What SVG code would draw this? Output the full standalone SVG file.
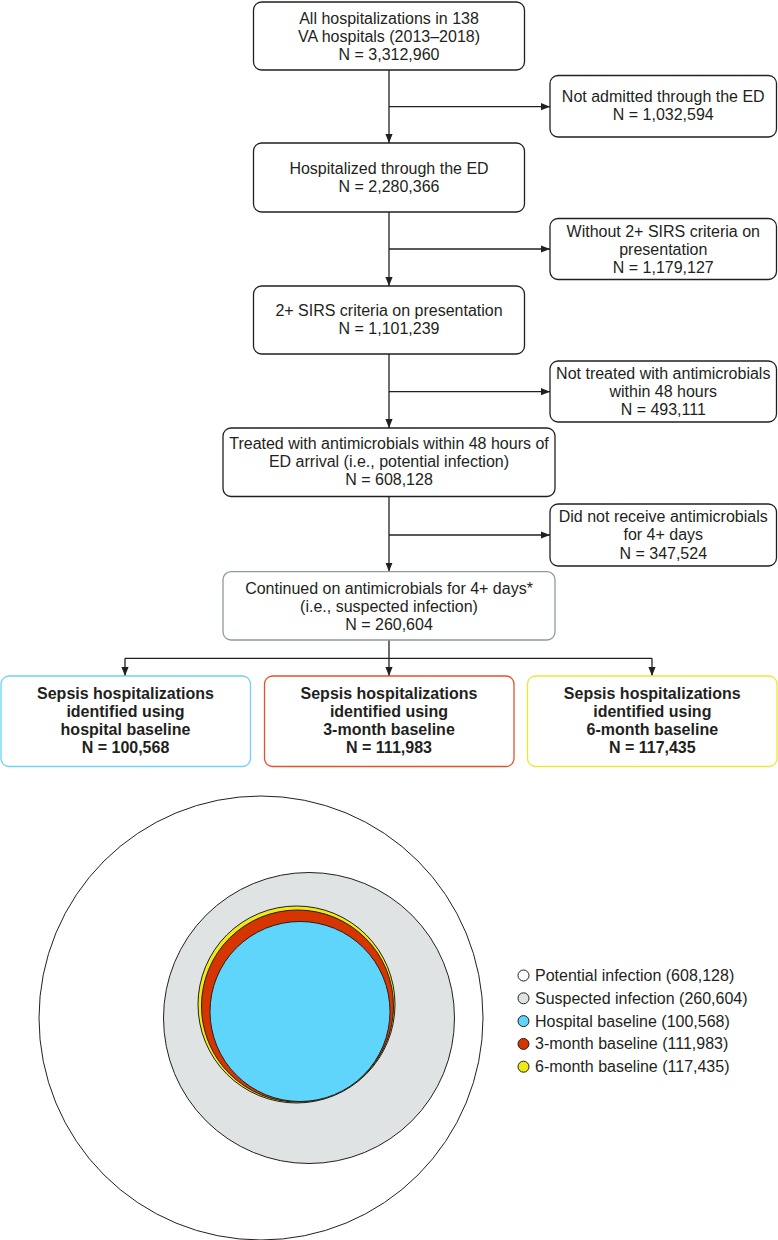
<svg xmlns="http://www.w3.org/2000/svg" width="778" height="1240" viewBox="0 0 778 1240">
<style>
text{font-family:"Liberation Sans",Arial,sans-serif;font-size:16px;fill:#231f20;text-anchor:middle}
.b{font-weight:bold}
.box{fill:#fff;stroke:#231f20;stroke-width:1.3}
.ln{fill:none;stroke:#231f20;stroke-width:1.3}
.circ{stroke:#231f20;stroke-width:1}
.lg{text-anchor:start}
</style>
<defs>
<marker id="ah" viewBox="0 0 10 10" refX="10" refY="5" markerWidth="9" markerHeight="9" markerUnits="userSpaceOnUse" orient="auto">
<path d="M0,1 L10,5 L0,9 Z" fill="#231f20"/>
</marker>
</defs>

<g id="connectors">
<path class="ln" d="M389,70 V143" marker-end="url(#ah)"/>
<path class="ln" d="M389,106.7 H550" marker-end="url(#ah)"/>
<path class="ln" d="M389,212 V286" marker-end="url(#ah)"/>
<path class="ln" d="M389,249 H550" marker-end="url(#ah)"/>
<path class="ln" d="M389,354 V428" marker-end="url(#ah)"/>
<path class="ln" d="M389,391.7 H550" marker-end="url(#ah)"/>
<path class="ln" d="M389,496 V571.5" marker-end="url(#ah)"/>
<path class="ln" d="M389,535 H550" marker-end="url(#ah)"/>
<path class="ln" d="M389,640 V658.3 M125,658.3 H652"/>
<path class="ln" d="M125,658.3 V676" marker-end="url(#ah)"/>
<path class="ln" d="M389,658.3 V676" marker-end="url(#ah)"/>
<path class="ln" d="M652,658.3 V676" marker-end="url(#ah)"/>
</g>

<g id="n1">
<rect class="box" x="253.5" y="2" width="271" height="68" rx="8"/>
<text x="389" y="23.5">All hospitalizations in 138</text>
<text x="389" y="41.8">VA hospitals (2013–2018)</text>
<text x="389" y="60">N = 3,312,960</text>
</g>
<g id="s1">
<rect class="box" x="550" y="75.5" width="226.5" height="61.5" rx="8"/>
<text x="663.25" y="102">Not admitted through the ED</text>
<text x="663.25" y="120.3">N = 1,032,594</text>
</g>
<g id="n2">
<rect class="box" x="253.5" y="143" width="271" height="69" rx="8"/>
<text x="389" y="173.6">Hospitalized through the ED</text>
<text x="389" y="191.9">N = 2,280,366</text>
</g>
<g id="s2">
<rect class="box" x="550" y="218.5" width="226.5" height="61" rx="8"/>
<text x="663.25" y="236.7">Without 2+ SIRS criteria on</text>
<text x="663.25" y="254.6">presentation</text>
<text x="663.25" y="272.5">N = 1,179,127</text>
</g>
<g id="n3">
<rect class="box" x="253.5" y="286" width="271" height="68" rx="8"/>
<text x="389" y="316">2+ SIRS criteria on presentation</text>
<text x="389" y="334.3">N = 1,101,239</text>
</g>
<g id="s3">
<rect class="box" x="550" y="361" width="226.5" height="61" rx="8"/>
<text x="663.25" y="378.5">Not treated with antimicrobials</text>
<text x="663.25" y="396.8">within 48 hours</text>
<text x="663.25" y="415.1">N = 493,111</text>
</g>
<g id="n4">
<rect class="box" x="223" y="428" width="332" height="68.5" rx="8"/>
<text x="389" y="448.6">Treated with antimicrobials within 48 hours of</text>
<text x="389" y="466.9">ED arrival (i.e., potential infection)</text>
<text x="389" y="485.2">N = 608,128</text>
</g>
<g id="s4">
<rect class="box" x="550" y="504" width="226.5" height="62" rx="8"/>
<text x="663.25" y="522">Did not receive antimicrobials</text>
<text x="663.25" y="540.3">for 4+ days</text>
<text x="663.25" y="558.6">N = 347,524</text>
</g>
<g id="n5">
<rect class="box" x="223" y="571.7" width="332" height="68.3" rx="8" style="stroke:#8c9c9c"/>
<text x="389" y="593.5">Continued on antimicrobials for 4+ days*</text>
<text x="389" y="611.8">(i.e., suspected infection)</text>
<text x="389" y="630">N = 260,604</text>
</g>
<g id="b1">
<rect class="box" x="1" y="676" width="249.5" height="90.5" rx="8" style="stroke:#6ed2f4"/>
<text class="b" x="125.5" y="698.5">Sepsis hospitalizations</text>
<text class="b" x="125.5" y="716.5">identified using</text>
<text class="b" x="125.5" y="734.5">hospital baseline</text>
<text class="b" x="125.5" y="752.5">N = 100,568</text>
</g>
<g id="b2">
<rect class="box" x="264.5" y="676" width="249.5" height="90.5" rx="8" style="stroke:#e2532a"/>
<text class="b" x="389" y="698.5">Sepsis hospitalizations</text>
<text class="b" x="389" y="716.5">identified using</text>
<text class="b" x="389" y="734.5">3-month baseline</text>
<text class="b" x="389" y="752.5">N = 111,983</text>
</g>
<g id="b3">
<rect class="box" x="527.5" y="676" width="249.5" height="90.5" rx="8" style="stroke:#ebe835"/>
<text class="b" x="652.3" y="698.5">Sepsis hospitalizations</text>
<text class="b" x="652.3" y="716.5">identified using</text>
<text class="b" x="652.3" y="734.5">6-month baseline</text>
<text class="b" x="652.3" y="752.5">N = 117,435</text>
</g>

<g id="venn">
<circle class="circ" cx="261" cy="1018" r="222" fill="#fff"/>
<circle class="circ" cx="309" cy="1018" r="145.5" fill="#dfe3e3"/>
<circle class="circ" cx="296.5" cy="1004.5" r="98.5" fill="#eeea16"/>
<circle class="circ" cx="297.5" cy="1006" r="96" fill="#d63500"/>
<circle class="circ" cx="300" cy="1011.5" r="90" fill="#5fd5fb"/>
</g>

<g id="legend">
<circle class="circ" cx="523.5" cy="975.5" r="5.5" fill="#fff"/>
<text class="lg" x="535" y="981">Potential infection (608,128)</text>
<circle class="circ" cx="523.5" cy="998.3" r="5.5" fill="#dfe3e3"/>
<text class="lg" x="535" y="1003.8">Suspected infection (260,604)</text>
<circle class="circ" cx="523.5" cy="1021.1" r="5.5" fill="#5fd5fb"/>
<text class="lg" x="535" y="1026.6">Hospital baseline (100,568)</text>
<circle class="circ" cx="523.5" cy="1043.9" r="5.5" fill="#d63500"/>
<text class="lg" x="535" y="1049.4">3-month baseline (111,983)</text>
<circle class="circ" cx="523.5" cy="1066.7" r="5.5" fill="#eeea16"/>
<text class="lg" x="535" y="1072.2">6-month baseline (117,435)</text>
</g>
</svg>
